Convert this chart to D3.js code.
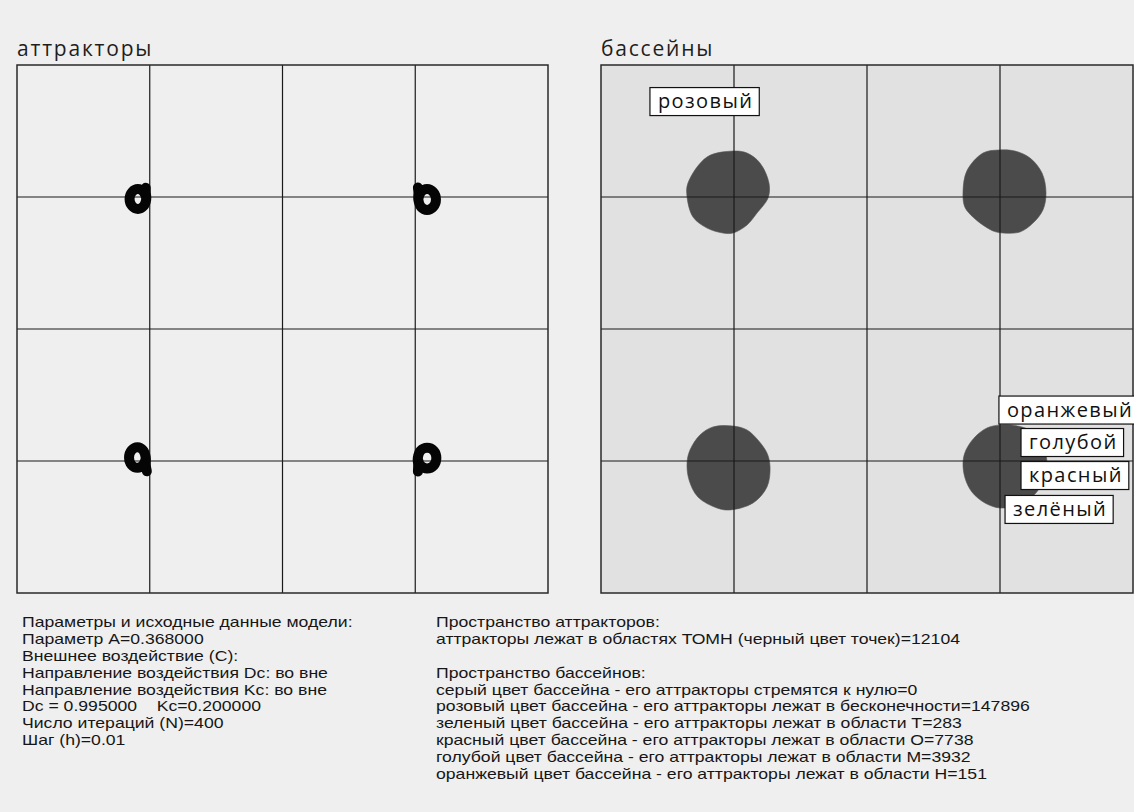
<!DOCTYPE html>
<html>
<head>
<meta charset="utf-8">
<script src="https://cdn.jsdelivr.net/npm/d3@7"></script>
<style>
  html, body { margin: 0; padding: 0; background: #efefef; }
  svg { display: block; }
</style>
</head>
<body>
<script>
// ---- model plane (both panels share it) ----
const xDomain = [-2, 2];
const yDomain = [-2, 2];
const gridTicks = [-1, 0, 1];

// ---- attractor trajectories (x, y), each a short tail settling into a loop ----
const attractorTopLeft = [
  [-1.030, 1.070], [-1.030, 1.035], [-1.026, 0.985], [-1.046, 0.932], [-1.089, 0.910],
  [-1.133, 0.932], [-1.152, 0.985], [-1.133, 1.038], [-1.089, 1.060], [-1.046, 1.038], [-1.026, 0.990]
];
const attractorTopRight = [
  [1.020, 1.072], [1.024, 1.035], [1.023, 0.981], [1.043, 0.925], [1.089, 0.902],
  [1.136, 0.925], [1.156, 0.981], [1.136, 1.037], [1.089, 1.060], [1.043, 1.037], [1.023, 0.985]
];
const attractorBottomLeft = [
  [-1.022, -1.078], [-1.030, -1.030], [-1.030, -0.974], [-1.050, -0.918], [-1.092, -0.895],
  [-1.137, -0.918], [-1.156, -0.974], [-1.137, -1.030], [-1.092, -1.052], [-1.050, -1.030], [-1.030, -0.980]
];
const attractorBottomRight = [
  [1.020, -1.080], [1.022, -1.030], [1.019, -0.977], [1.040, -0.921], [1.089, -0.899],
  [1.139, -0.921], [1.159, -0.977], [1.139, -1.034], [1.089, -1.056], [1.040, -1.034], [1.019, -0.982]
];

// ---- basin boundaries (x, y) ----
const basinTopLeft = [
  [-1.008, 1.348], [-0.902, 1.333], [-0.805, 1.258], [-0.737, 1.106], [-0.744, 0.992],
  [-0.827, 0.879], [-0.902, 0.788], [-1.008, 0.727], [-1.083, 0.727], [-1.203, 0.765],
  [-1.308, 0.848], [-1.353, 1.000], [-1.346, 1.106], [-1.203, 1.303]
];
const basinTopRight = [
  [0.992, 1.356], [1.113, 1.348], [1.226, 1.295], [1.316, 1.182], [1.346, 1.030],
  [1.323, 0.902], [1.248, 0.803], [1.150, 0.735], [1.023, 0.727], [0.960, 0.738],
  [0.890, 0.775], [0.800, 0.845], [0.735, 0.925], [0.722, 1.040], [0.752, 1.200], [0.872, 1.333]
];
const basinBottomLeft = [
  [-1.008, -0.735], [-0.902, -0.765], [-0.820, -0.841], [-0.752, -0.939], [-0.729, -1.045],
  [-0.752, -1.197], [-0.857, -1.318], [-1.030, -1.371], [-1.128, -1.356], [-1.271, -1.273],
  [-1.338, -1.144], [-1.353, -1.015], [-1.331, -0.917], [-1.256, -0.803], [-1.158, -0.742]
];
const basinBottomRight = [
  [1.000, -0.727], [1.135, -0.735], [1.248, -0.780], [1.323, -0.879], [1.353, -1.015],
  [1.323, -1.159], [1.248, -1.265], [1.135, -1.333], [1.000, -1.356], [0.887, -1.318],
  [0.789, -1.235], [0.737, -1.129], [0.722, -1.008], [0.744, -0.917], [0.812, -0.818], [0.902, -0.750]
];

const attractors = [attractorTopLeft, attractorTopRight, attractorBottomLeft, attractorBottomRight];
const basins = [basinTopLeft, basinTopRight, basinBottomLeft, basinBottomRight];

// ---- basin colour labels: name, left edge x, centre y ----
const labelNames = ["розовый", "оранжевый", "голубой", "красный", "зелёный"];
const labelAnchors = [[-1.632, 1.723], [0.992, -0.614], [1.158, -0.860], [1.158, -1.110], [1.038, -1.367]];

// ---- captions ----
const panelTitles = ["аттракторы", "бассейны"];
const paramLines = [
  "Параметры и исходные данные модели:",
  "Параметр A=0.368000",
  "Внешнее воздействие (C):",
  "Направление воздействия Dc: во вне",
  "Направление воздействия Kc: во вне",
  "Dc = 0.995000    Kc=0.200000",
  "Число итераций (N)=400",
  "Шаг (h)=0.01"
];
const attractorPointCount = 12104;
const basinColourNames = ["серый", "розовый", "зеленый", "красный", "голубой", "оранжевый"];
const basinDestinations = ["стремятся к нулю", "лежат в бесконечности", "лежат в области T",
  "лежат в области O", "лежат в области M", "лежат в области H"];
const basinCounts = [0, 147896, 283, 7738, 3932, 151];

// ---- drawing ----
const W = 1134, H = 812;
const svg = d3.select("body").append("svg").attr("width", W).attr("height", H);
svg.append("rect").attr("width", W).attr("height", H).attr("fill", "#efefef");

const plotTop = 65, plotBottom = 593;
const panels = [
  { left: 17, right: 548, bg: "#efefef" },
  { left: 601, right: 1133, bg: "#e1e1e1" }
];

const y = d3.scaleLinear().domain(yDomain).range([plotBottom, plotTop]);

function drawPanel(p, i) {
  const x = d3.scaleLinear().domain(xDomain).range([p.left, p.right]);
  const g = svg.append("g");
  g.append("rect")
    .attr("x", p.left).attr("y", plotTop)
    .attr("width", p.right - p.left).attr("height", plotBottom - plotTop)
    .attr("fill", p.bg);
  g.append("text")
    .attr("x", p.left).attr("y", 56)
    .attr("font-family", "'Open Sans', sans-serif").attr("font-size", 21)
    .attr("letter-spacing", 1.8)
    .attr("fill", "#1e1e1e")
    .text(panelTitles[i]);
  return { g, x };
}

function drawGrid(g, x) {
  g.selectAll("line.v").data(gridTicks).join("line").attr("class", "v")
    .attr("x1", d => x(d)).attr("x2", d => x(d))
    .attr("y1", plotTop).attr("y2", plotBottom)
    .attr("stroke", "#1a1a1a").attr("stroke-width", 1.2);
  g.selectAll("line.h").data(gridTicks).join("line").attr("class", "h")
    .attr("x1", x.range()[0]).attr("x2", x.range()[1])
    .attr("y1", d => y(d)).attr("y2", d => y(d))
    .attr("stroke", "#1a1a1a").attr("stroke-width", 1.2);
}

function drawFrame(g, x) {
  const [x0, x1] = x.range();
  g.append("rect")
    .attr("x", x0).attr("y", plotTop)
    .attr("width", x1 - x0).attr("height", plotBottom - plotTop)
    .attr("fill", "none").attr("stroke", "#2a2a2a").attr("stroke-width", 1.5);
}

// left panel: attractors
const A = drawPanel(panels[0], 0);
drawGrid(A.g, A.x);
const attrLine = d3.line().x(d => A.x(d[0])).y(d => y(d[1])).curve(d3.curveCatmullRom);
A.g.selectAll("path.attr").data(attractors).join("path").attr("class", "attr")
  .attr("d", attrLine)
  .attr("fill", "none").attr("stroke", "#050505")
  .attr("stroke-width", 10).attr("stroke-linejoin", "round").attr("stroke-linecap", "round");
drawFrame(A.g, A.x);

// right panel: basins
const B = drawPanel(panels[1], 1);
const basinShape = d3.line().x(d => B.x(d[0])).y(d => y(d[1])).curve(d3.curveCatmullRomClosed);
B.g.selectAll("path.basin").data(basins).join("path").attr("class", "basin")
  .attr("d", basinShape)
  .attr("fill", "#4b4b4b").attr("stroke", "#555").attr("stroke-width", 0.6);
drawGrid(B.g, B.x);
drawFrame(B.g, B.x);

// colour labels
const lab = B.g.selectAll("g.lab").data(labelNames).join("g").attr("class", "lab");
lab.each(function(name, i) {
  const gl = d3.select(this);
  const [lx, ly] = labelAnchors[i];
  const px = B.x(lx), py = y(ly);
  const box = gl.append("rect");
  const t = gl.append("text")
    .attr("x", px + 8).attr("y", py + 6.5)
    .attr("font-family", "'Open Sans', sans-serif").attr("font-size", 20)
    .attr("letter-spacing", 1.4)
    .attr("fill", "#111")
    .text(name);
  const w = t.node().getComputedTextLength();
  box.attr("x", px).attr("y", py - 14)
    .attr("width", w + 14).attr("height", 28)
    .attr("fill", "#ffffff").attr("stroke", "#111").attr("stroke-width", 1.2);
});

// captions under the panels
function textBlock(lines, x0, y0) {
  const g = svg.append("g").attr("transform", `translate(${x0},0) scale(1.175,1)`);
  g.selectAll("text").data(lines).join("text")
    .attr("x", 0)
    .attr("y", (d, i) => y0 + i * 16.8)
    .attr("font-family", "'Liberation Sans', Arial, sans-serif")
    .attr("font-size", 15)
    .attr("fill", "#161616")
    .attr("xml:space", "preserve")
    .style("white-space", "pre")
    .text(d => d);
}

textBlock(paramLines, 22, 627.5);

const rightLines = [
  "Пространство аттракторов:",
  `аттракторы лежат в областях ТОМН (черный цвет точек)=${attractorPointCount}`,
  "",
  "Пространство бассейнов:"
].concat(basinColourNames.map((c, i) =>
  `${c} цвет бассейна - его аттракторы ${basinDestinations[i]}=${basinCounts[i]}`));
textBlock(rightLines, 436, 627.5);
</script>
</body>
</html>
